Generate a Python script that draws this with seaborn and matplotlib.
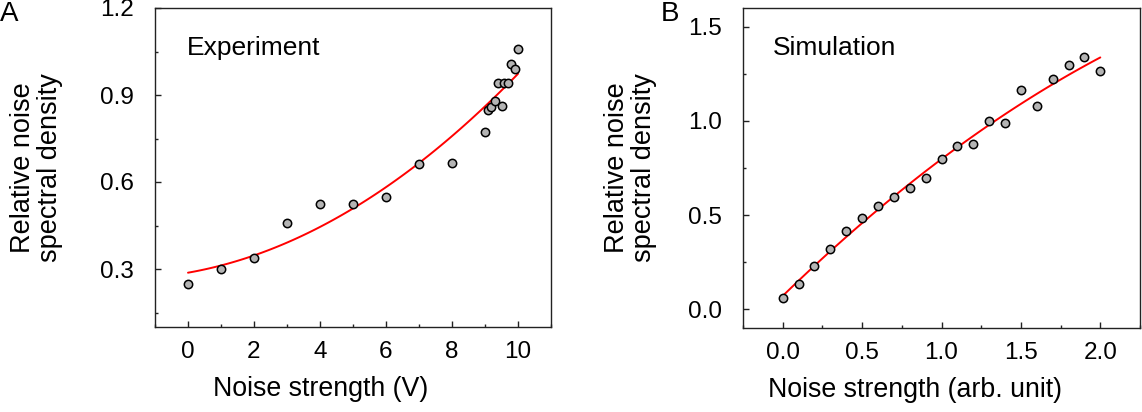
import matplotlib
matplotlib.use("Agg")
import matplotlib.pyplot as plt
import seaborn as sns
import pandas as pd
from matplotlib.ticker import MultipleLocator

# Panel A: experiment
exp_strength = [0, 1, 2, 3, 4, 5, 6, 7, 8, 9.0, 9.09, 9.19, 9.30, 9.39, 9.50,
                9.59, 9.70, 9.79, 9.90, 10.0]
exp_density = [0.249, 0.299, 0.339, 0.457, 0.524, 0.523, 0.549, 0.662, 0.667,
               0.772, 0.848, 0.858, 0.880, 0.943, 0.861, 0.940, 0.942, 1.008,
               0.990, 1.059]

# Panel B: simulation
sim_strength = [0.0, 0.1, 0.2, 0.3, 0.4, 0.5, 0.6, 0.7, 0.8, 0.9, 1.0,
                1.1, 1.2, 1.3, 1.4, 1.5, 1.6, 1.7, 1.8, 1.9, 2.0]
sim_density = [0.058, 0.133, 0.230, 0.319, 0.415, 0.486, 0.550, 0.594, 0.644,
               0.695, 0.800, 0.867, 0.876, 0.998, 0.991, 1.163, 1.080, 1.222,
               1.296, 1.340, 1.266]

exp_df = pd.DataFrame({"strength": exp_strength, "density": exp_density})
sim_df = pd.DataFrame({"strength": sim_strength, "density": sim_density})

sns.set_theme(style="ticks")
plt.rcParams["font.family"] = ["Liberation Sans", "DejaVu Sans"]
plt.rcParams.update({"text.color": "black", "axes.labelcolor": "black",
                     "xtick.labelcolor": "black", "ytick.labelcolor": "black"})

fig = plt.figure(figsize=(11.42, 4.12), dpi=100)
ax_a = fig.add_axes([155 / 1142, 1 - 327 / 412, 396 / 1142, 319 / 412])
ax_b = fig.add_axes([743 / 1142, 1 - 328 / 412, 397 / 1142, 320 / 412])

scatter_style = dict(s=36, color="#b4b4b4", edgecolor="black", linewidths=1.1,
                     alpha=1, zorder=3)
line_style = dict(color="red", lw=1.4, zorder=2)

for ax, df, text in [(ax_a, exp_df, "Experiment"), (ax_b, sim_df, "Simulation")]:
    sns.regplot(data=df, x="strength", y="density", order=2, ci=None, ax=ax,
                scatter_kws=scatter_style, line_kws=line_style)
    for sp in ax.spines.values():
        sp.set_color("#222222")
        sp.set_linewidth(1.0)
    ax.tick_params(which="both", direction="in", color="#222222", width=1.0,
                   labelsize=17.5)
    ax.tick_params(which="major", length=4.5)
    ax.tick_params(which="minor", length=2.5)
    ax.tick_params(axis="y", pad=15)
    ax.tick_params(axis="x", pad=10)
    ax.text(0.075 if ax is ax_b else 0.081, 0.875, text, transform=ax.transAxes,
            fontsize=19, va="center", ha="left")
    ax.set_ylabel("Relative noise\nspectral density", fontsize=19.5,
                  linespacing=1.08)

ax_a.set_xlim(-1, 11)
ax_a.set_ylim(0.1, 1.2)
ax_a.xaxis.set_major_locator(MultipleLocator(2))
ax_a.xaxis.set_minor_locator(MultipleLocator(1))
ax_a.yaxis.set_major_locator(MultipleLocator(0.3))
ax_a.yaxis.set_minor_locator(MultipleLocator(0.15))
ax_a.set_yticks([0.3, 0.6, 0.9, 1.2])
ax_a.set_xlabel("Noise strength (V)", fontsize=19.3)

ax_b.set_xlim(-0.25, 2.25)
ax_b.set_ylim(-0.1, 1.6)
ax_b.xaxis.set_major_locator(MultipleLocator(0.5))
ax_b.xaxis.set_minor_locator(MultipleLocator(0.25))
ax_b.yaxis.set_major_locator(MultipleLocator(0.5))
ax_b.yaxis.set_minor_locator(MultipleLocator(0.25))
ax_b.xaxis.set_major_formatter(lambda v, p: f"{v:.1f}")
ax_b.yaxis.set_major_formatter(lambda v, p: f"{v:.1f}")
ax_b.set_xlabel("Noise strength (arb. unit)", fontsize=19.3)

ax_a.yaxis.set_label_coords(-0.232, 0.5)
ax_b.yaxis.set_label_coords(-0.216, 0.5)
ax_a.xaxis.set_label_coords(0.419, -0.155)
ax_b.xaxis.set_label_coords(0.433, -0.152)

fig.text(0.0, 0.998, "A", fontsize=20, va="top", ha="left")
fig.text(661 / 1142, 0.998, "B", fontsize=20, va="top", ha="left")

fig.savefig("out.png", dpi=100)
